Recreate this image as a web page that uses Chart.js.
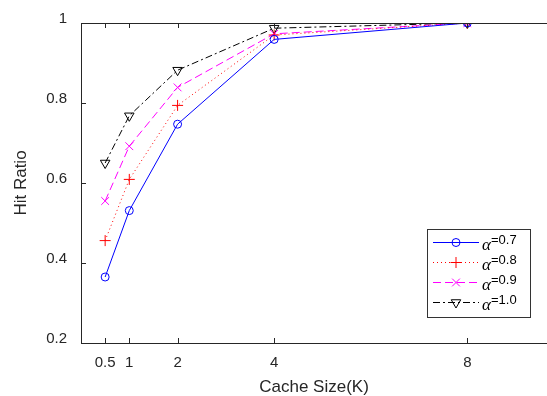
<!DOCTYPE html>
<html><head><meta charset="utf-8">
<script src="https://cdn.jsdelivr.net/npm/chart.js@4/dist/chart.umd.min.js"></script>
<style>html,body{margin:0;padding:0;background:#fff}#wrap{width:547px;height:396px}</style>
</head><body><div id="wrap"><canvas id="c"></canvas></div>
<script>
const cacheSizes = [0.5, 1, 2, 4, 8];
const xTicks = [0.5, 1, 2, 4, 8];
const alphaLabels = ['0.7', '0.8', '0.9', '1.0'];
const hit07 = [0.365, 0.531, 0.747, 0.959, 1.0];
const hit08 = [0.456, 0.609, 0.794, 0.970, 1.0];
const hit09 = [0.555, 0.692, 0.839, 0.973, 1.0];
const hit10 = [0.650, 0.768, 0.882, 0.987, 1.0];

const styles = [
  {color:'#0000ff', dash:[], pointStyle:'circle', radius:4, rot:0},
  {color:'#ff0000', dash:[1,3], pointStyle:'cross', radius:5.5, rot:0},
  {color:'#ff00ff', dash:[8,4], pointStyle:'crossRot', radius:5.5, rot:0},
  {color:'#000000', dash:[7,3,2,3], pointStyle:'triangle', radius:5.5, rot:180}
];
const series = [hit07, hit08, hit09, hit10];

const datasets = series.map((s,i)=>({
  label: 'α=' + alphaLabels[i],
  data: cacheSizes.map((x,j)=>({x:x, y:s[j]})),
  borderColor: styles[i].color,
  backgroundColor: 'rgba(0,0,0,0)',
  borderWidth: 1,
  borderDash: styles[i].dash,
  pointStyle: styles[i].pointStyle,
  pointRadius: styles[i].radius,
  pointRotation: styles[i].rot,
  pointBorderColor: styles[i].color,
  pointBackgroundColor: 'rgba(0,0,0,0)',
  pointBorderWidth: 1,
  tension: 0
}));

const frame = {
  id:'frame',
  afterDraw(chart){
    const {ctx, chartArea:a, scales} = chart;
    ctx.save();
    ctx.strokeStyle = '#262626';
    ctx.lineWidth = 1;
    ctx.setLineDash([]);
    ctx.beginPath(); ctx.moveTo(a.left, a.top+0.5); ctx.lineTo(a.right, a.top+0.5); ctx.stroke();
    xTicks.forEach(v=>{
      const px = Math.round(scales.x.getPixelForValue(v))+0.5;
      ctx.beginPath(); ctx.moveTo(px, a.bottom); ctx.lineTo(px, a.bottom-5); ctx.stroke();
      ctx.beginPath(); ctx.moveTo(px, a.top); ctx.lineTo(px, a.top+5); ctx.stroke();
    });
    [0.2,0.4,0.6,0.8,1.0].forEach(v=>{
      const py = Math.round(scales.y.getPixelForValue(v))+0.5;
      ctx.beginPath(); ctx.moveTo(a.left, py); ctx.lineTo(a.left+5, py); ctx.stroke();
    });
    // legend
    const bx=427.5, by=229.5, bw=103, bh=88;
    ctx.fillStyle='#fff'; ctx.fillRect(bx,by,bw,bh);
    ctx.strokeStyle='#333'; ctx.strokeRect(bx,by,bw,bh);
    const rows=[242,262,282,302];
    chart.data.datasets.forEach((ds,i)=>{
      const y=rows[i]+0.5;
      ctx.strokeStyle=styles[i].color; ctx.lineWidth=1;
      ctx.setLineDash(styles[i].dash);
      ctx.beginPath(); ctx.moveTo(433,y); ctx.lineTo(479,y); ctx.stroke();
      ctx.setLineDash([]);
      ctx.fillStyle='rgba(0,0,0,0)';
      ctx.strokeStyle=styles[i].color;
      Chart.helpers.drawPoint(ctx,{pointStyle:styles[i].pointStyle, rotation:styles[i].rot, radius:styles[i].radius, borderWidth:1}, 456, y);
      ctx.fillStyle='#000';
      ctx.textBaseline='alphabetic'; ctx.textAlign='left';
      ctx.font='italic 17px "Liberation Serif"';
      ctx.fillText('α', 482, rows[i]+8);
      ctx.font='13px "Liberation Sans"';
      ctx.fillText('='+alphaLabels[i], 491, rows[i]+2);
    });
    ctx.restore();
  }
};

new Chart(document.getElementById('c'), {
  type:'line',
  data:{datasets},
  plugins:[frame],
  options:{
    responsive:true, maintainAspectRatio:false, animation:false,
    layout:{autoPadding:false, padding:{top:22,right:0,left:0,bottom:0}},
    plugins:{legend:{display:false}, tooltip:{enabled:false}},
    scales:{
      x:{type:'linear', min:0, max:9.65,
        afterBuildTicks(s){ s.ticks = xTicks.map(v=>({value:v})); },
        afterFit(s){ s.height = 53; },
        grid:{display:false, drawTicks:false},
        border:{display:true, color:'#262626', width:1},
        ticks:{color:'#262626', font:{family:'Liberation Sans', size:15}, padding:11, maxRotation:0, autoSkip:false,
          callback:(v)=>String(v)},
        title:{display:true, text:'Cache Size(K)', color:'#262626', font:{family:'Liberation Sans', size:17}, padding:{top:0,bottom:-2}}
      },
      y:{min:0.2, max:1.0,
        afterBuildTicks(s){ s.ticks=[0.2,0.4,0.6,0.8,1.0].map(v=>({value:v})); },
        afterFit(s){ s.width = 81; },
        grid:{display:false, drawTicks:false},
        border:{display:true, color:'#262626', width:1},
        ticks:{color:'#262626', font:{family:'Liberation Sans', size:15}, padding:14, labelOffset:-4,
          callback:(v)=>String(Math.round(v*10)/10)},
        title:{display:true, text:'Hit Ratio', color:'#262626', font:{family:'Liberation Sans', size:17}, padding:{top:11,bottom:0}}
      }
    }
  }
});
</script></body></html>
